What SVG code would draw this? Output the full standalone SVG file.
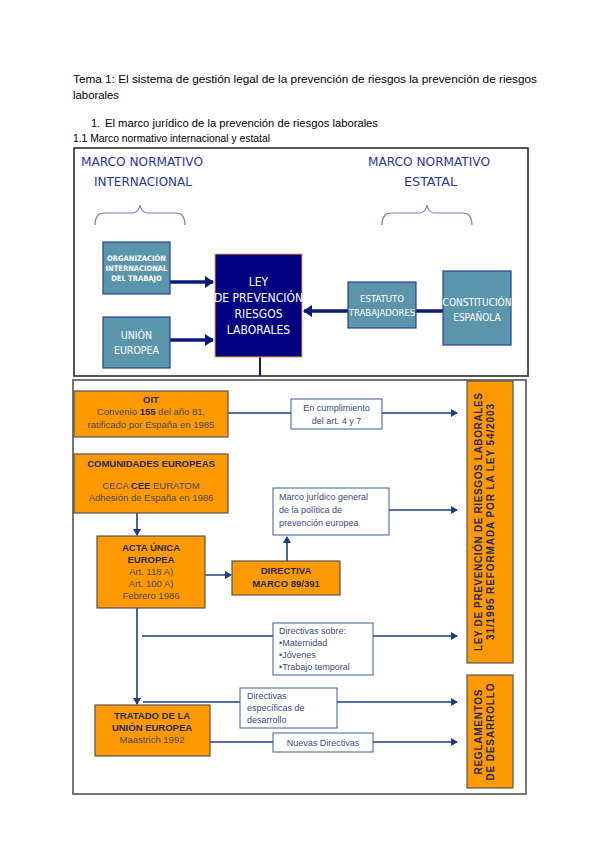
<svg xmlns="http://www.w3.org/2000/svg" width="600" height="848" viewBox="0 0 600 848">
<defs>
<style>
.doc{font-family:"Liberation Sans",Arial,sans-serif;font-size:11px;fill:#000}
.hd{font-family:"Liberation Sans Narrow","DejaVu Sans Condensed","Liberation Sans",sans-serif;font-size:13px;fill:#2b35a0}
.teal{fill:#5b95ac;stroke:#2a3f8f;stroke-width:1.2}
.tw{font-family:"Liberation Sans Narrow","DejaVu Sans Condensed","Liberation Sans",sans-serif;fill:#fff;text-anchor:middle}
.navy{fill:#000080;stroke:#e8a040;stroke-width:1}
.org{fill:#ff9900;stroke:#555;stroke-width:1.2}
.ob{font-family:"Liberation Sans",Arial,sans-serif;font-size:9.5px;font-weight:bold;fill:#1f2a66;text-anchor:middle}
.on{font-family:"Liberation Sans",Arial,sans-serif;font-size:9.5px;fill:#4a4a5a;text-anchor:middle}
.wb{fill:#fff;stroke:#3a5aa0;stroke-width:1}
.wt{font-family:"Liberation Sans",Arial,sans-serif;font-size:9px;fill:#3c4a80}
.vt{font-family:"Liberation Sans",Arial,sans-serif;font-size:10px;font-weight:bold;fill:#1f2a66;text-anchor:middle}
.ln{stroke:#1f3c88;stroke-width:1.6;fill:none}
.thick{stroke:#0a1a78;stroke-width:3.5;fill:none}
.brace{stroke:#6f88b8;stroke-width:1.2;fill:none}
</style>
<marker id="ah" markerWidth="8" markerHeight="8" refX="6" refY="4" orient="auto" markerUnits="userSpaceOnUse">
<path d="M0,0 L7,4 L0,8 Z" fill="#1f3c88"/>
</marker>
<marker id="ahb" markerWidth="10" markerHeight="12" refX="8" refY="6" orient="auto" markerUnits="userSpaceOnUse">
<path d="M0,0 L9,6 L0,12 Z" fill="#0a1a78"/>
</marker>
</defs>
<rect width="600" height="848" fill="#fff"/>

<g id="header-text">
<text class="doc" x="73" y="83" textLength="464" lengthAdjust="spacingAndGlyphs">Tema 1: El sistema de gestión legal de la prevención de riesgos la prevención de riesgos</text>
<text class="doc" x="73" y="99" textLength="46" lengthAdjust="spacingAndGlyphs">laborales</text>
<text class="doc" x="91" y="127">1.</text>
<text class="doc" x="105" y="127" textLength="273" lengthAdjust="spacingAndGlyphs">El marco jurídico de la prevención de riesgos laborales</text>
<text class="doc" x="73" y="142" textLength="197" lengthAdjust="spacingAndGlyphs">1.1 Marco normativo internacional y estatal</text>
</g>

<g id="frames">
<rect x="74" y="148" width="454" height="228" fill="#fff" stroke="#444" stroke-width="1.8"/>
<rect x="73" y="380" width="453" height="414" fill="#fff" stroke="#666" stroke-width="1.8"/>
</g>

<g id="titles">
<text class="hd" x="81" y="166" textLength="122" lengthAdjust="spacingAndGlyphs">MARCO NORMATIVO</text>
<text class="hd" x="94" y="186" textLength="98" lengthAdjust="spacingAndGlyphs">INTERNACIONAL</text>
<text class="hd" x="368" y="166" textLength="122" lengthAdjust="spacingAndGlyphs">MARCO NORMATIVO</text>
<text class="hd" x="404" y="186" textLength="53" lengthAdjust="spacingAndGlyphs">ESTATAL</text>
<path class="brace" d="M95,225 Q95,213 104,213 L133,213 Q139,212 140,205 Q141,212 147,213 L176,213 Q185,213 185,225"/>
<path class="brace" d="M382,225 Q382,213 391,213 L420,213 Q426,212 427,205 Q428,212 434,213 L463,213 Q472,213 472,225"/>
</g>

<g id="connectors">
<line class="thick" x1="170" y1="282" x2="213" y2="282" marker-end="url(#ahb)"/>
<line class="thick" x1="170" y1="340" x2="213" y2="340" marker-end="url(#ahb)"/>
<line class="thick" x1="443" y1="311" x2="304" y2="311" marker-end="url(#ahb)"/>
<line x1="260" y1="357" x2="260" y2="376" stroke="#0a1a78" stroke-width="2"/>

<line class="ln" x1="228" y1="413" x2="457" y2="413" marker-end="url(#ah)"/>
<line class="ln" x1="389" y1="510" x2="457" y2="510" marker-end="url(#ah)"/>
<line class="ln" x1="137" y1="505" x2="137" y2="535" marker-end="url(#ah)"/>
<line class="ln" x1="193" y1="575" x2="231" y2="575" marker-end="url(#ah)"/>
<line class="ln" x1="287" y1="561" x2="287" y2="537" marker-end="url(#ah)"/>
<line class="ln" x1="137" y1="608" x2="137" y2="704" marker-end="url(#ah)"/>
<line class="ln" x1="142" y1="636" x2="457" y2="636" marker-end="url(#ah)"/>
<line class="ln" x1="143" y1="702" x2="457" y2="702" marker-end="url(#ah)"/>
<line class="ln" x1="197" y1="742" x2="457" y2="742" marker-end="url(#ah)"/>
</g>

<g id="n-oit-top">
<rect class="teal" x="103" y="242" width="67" height="52"/>
<text class="tw" x="136.5" y="261" font-size="7.5" font-weight="bold">ORGANIZACIÓN</text>
<text class="tw" x="136.5" y="271" font-size="7.5" font-weight="bold">INTERNACIONAL</text>
<text class="tw" x="136.5" y="281" font-size="7.5" font-weight="bold">DEL TRABAJO</text>
</g>
<g id="n-ue-top">
<rect class="teal" x="103" y="317" width="67" height="51"/>
<text class="tw" x="136.5" y="339" font-size="10.5">UNIÓN</text>
<text class="tw" x="136.5" y="354" font-size="10.5">EUROPEA</text>
</g>
<g id="n-ley">
<rect class="navy" x="215" y="254" width="87" height="103"/>
<text class="tw" x="258.5" y="286" font-size="12">LEY</text>
<text class="tw" x="258.5" y="302" font-size="12">DE PREVENCIÓN</text>
<text class="tw" x="258.5" y="318" font-size="12">RIESGOS</text>
<text class="tw" x="258.5" y="334" font-size="12">LABORALES</text>
</g>
<g id="n-estatuto">
<rect class="teal" x="348" y="282" width="68" height="46"/>
<text class="tw" x="382" y="302" font-size="9.5">ESTATUTO</text>
<text class="tw" x="382" y="316" font-size="9.5">TRABAJADORES</text>
</g>
<g id="n-constitucion">
<rect class="teal" x="443" y="271" width="68" height="74"/>
<text class="tw" x="477" y="306" font-size="10">CONSTITUCIÓN</text>
<text class="tw" x="477" y="321" font-size="10">ESPAÑOLA</text>
</g>

<g id="n-oit">
<rect class="org" x="74" y="391" width="154" height="46"/>
<text class="ob" x="151" y="403">OIT</text>
<text class="on" x="151" y="415">Convenio <tspan font-weight="bold" fill="#1f2a66">155</tspan> del año 81,</text>
<text class="on" x="151" y="428">ratificado por España en 1985</text>
</g>
<g id="n-cumplimiento">
<rect class="wb" x="291" y="399" width="91" height="30"/>
<text class="wt" x="336.5" y="411" text-anchor="middle">En cumplimiento</text>
<text class="wt" x="336.5" y="424" text-anchor="middle">del art. 4 y 7</text>
</g>
<g id="n-comunidades">
<rect class="org" x="74" y="454" width="154" height="59"/>
<text class="ob" x="151" y="467">COMUNIDADES EUROPEAS</text>
<text class="on" x="151" y="489">CECA  <tspan font-weight="bold" fill="#1f2a66">CEE</tspan>  EURATOM</text>
<text class="on" x="151" y="501">Adhesión de España en 1986</text>
</g>
<g id="n-marco">
<rect class="wb" x="273" y="488" width="116" height="47"/>
<text class="wt" x="279" y="500">Marco jurídico general</text>
<text class="wt" x="279" y="513">de la política de</text>
<text class="wt" x="279" y="526">prevención europea</text>
</g>
<g id="n-acta">
<rect class="org" x="97" y="536" width="108" height="72"/>
<text class="ob" x="151" y="551">ACTA ÚNICA</text>
<text class="ob" x="151" y="563">EUROPEA</text>
<text class="on" x="151" y="575">Art. 118 A)</text>
<text class="on" x="151" y="587">Art. 100 A)</text>
<text class="on" x="151" y="599">Febrero 1986</text>
</g>
<g id="n-directiva">
<rect class="org" x="232" y="561" width="108" height="34"/>
<text class="ob" x="286" y="574">DIRECTIVA</text>
<text class="ob" x="286" y="587">MARCO 89/391</text>
</g>
<g id="n-directivas-sobre">
<rect class="wb" x="273" y="623" width="100" height="52"/>
<text class="wt" x="279" y="634">Directivas sobre:</text>
<text class="wt" x="279" y="646">•Maternidad</text>
<text class="wt" x="279" y="658">•Jóvenes</text>
<text class="wt" x="279" y="670">•Trabajo temporal</text>
</g>
<g id="n-especificas">
<rect class="wb" x="240" y="688" width="97" height="40"/>
<text class="wt" x="247" y="699">Directivas</text>
<text class="wt" x="247" y="711">específicas de</text>
<text class="wt" x="247" y="723">desarrollo</text>
</g>
<g id="n-tratado">
<rect class="org" x="95" y="705" width="115" height="51"/>
<text class="ob" x="152" y="719">TRATADO DE LA</text>
<text class="ob" x="152" y="731">UNIÓN EUROPEA</text>
<text class="on" x="152" y="743">Maastrich 1992</text>
</g>
<g id="n-nuevas">
<rect class="wb" x="273" y="733" width="100" height="19"/>
<text class="wt" x="323" y="746" text-anchor="middle">Nuevas Directivas</text>
</g>
<g id="n-ley-bar">
<rect class="org" x="467" y="381" width="46" height="282"/>
<text class="vt" transform="translate(482,522) rotate(-90)" textLength="258" lengthAdjust="spacing">LEY DE PREVENCIÓN DE RIESGOS LABORALES</text>
<text class="vt" transform="translate(494,522) rotate(-90)" textLength="236" lengthAdjust="spacing">31/1995 REFORMADA POR LA LEY 54/2003</text>
</g>
<g id="n-reglamentos">
<rect class="org" x="467" y="675" width="46" height="113"/>
<text class="vt" transform="translate(482,732) rotate(-90)" textLength="85" lengthAdjust="spacing">REGLAMENTOS</text>
<text class="vt" transform="translate(494,732) rotate(-90)" textLength="97" lengthAdjust="spacing">DE DESARROLLO</text>
</g>
</svg>
